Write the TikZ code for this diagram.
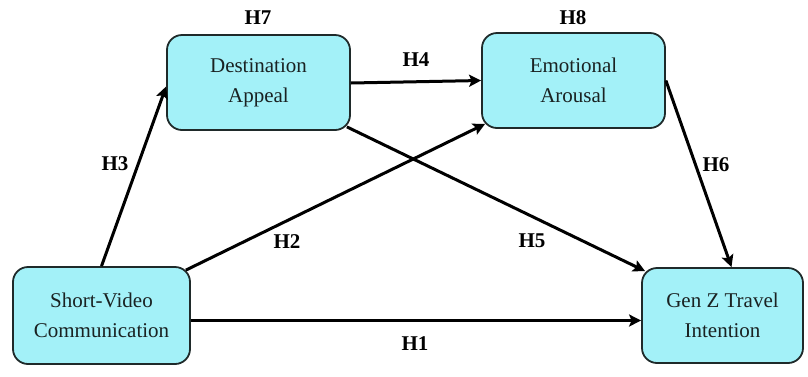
\documentclass[tikz,border=0pt]{standalone}
\usepackage{fontspec}
\setmainfont{Liberation Serif}
\usetikzlibrary{calc,arrows.meta}
\definecolor{boxfill}{HTML}{A3F1F8}
\definecolor{boxline}{HTML}{1F2A2A}
\definecolor{txt}{HTML}{1A2222}
\begin{document}
\begin{tikzpicture}[x=1pt,y=-1pt,
  varbox/.style={draw=boxline,fill=boxfill,line width=1.8pt,rounded corners=15pt,
    align=center,inner sep=0pt,text=txt,font=\fontsize{21}{30}\selectfont},
  hlabel/.style={font=\fontsize{21}{25}\selectfont\bfseries,text=black,inner sep=0pt},
  conn/.style={line width=3pt,draw=black,-{Stealth[length=12pt,width=12pt,inset=2.5pt]}}]
\useasboundingbox (0,0) rectangle (808,376);
\node[varbox,minimum width=177pt,minimum height=97pt] (sv) at (101.5,315.5) {Short-Video\\Communication};
\node[varbox,minimum width=183pt,minimum height=95pt] (da) at (258.5,82.5) {Destination\\Appeal};
\node[varbox,minimum width=183pt,minimum height=95pt] (ea) at (573.5,80.5) {Emotional\\Arousal};
\node[varbox,minimum width=161pt,minimum height=95pt] (gz) at (722.5,315.5) {Gen Z Travel\\Intention};
\draw[conn] (sv.north) -- ($(da.west)+(0,4)$);
\draw[conn] ($(da.east)+(0,0.5)$) -- (ea.west);
\draw[conn] ($(sv.north east)+(-5,4)$) -- ($(ea.south west)+(4,-5)$);
\draw[conn] ($(da.south east)+(-4,-4)$) -- ($(gz.north west)+(4,4)$);
\draw[conn] (ea.east) -- ($(gz.north)+(9,0)$);
\draw[conn] ($(sv.east)+(0,5)$) -- ($(gz.west)+(0,5)$);
\node[hlabel] (h7) at (258,18) {H7};
\node[hlabel] (h8) at (573,18) {H8};
\node[hlabel] (h4) at (416,60) {H4};
\node[hlabel] (h3) at (115,164) {H3};
\node[hlabel] (h2) at (287,242) {H2};
\node[hlabel] (h5) at (532,241) {H5};
\node[hlabel] (h6) at (716,165) {H6};
\node[hlabel] (h1) at (415,344) {H1};
\end{tikzpicture}
\end{document}
